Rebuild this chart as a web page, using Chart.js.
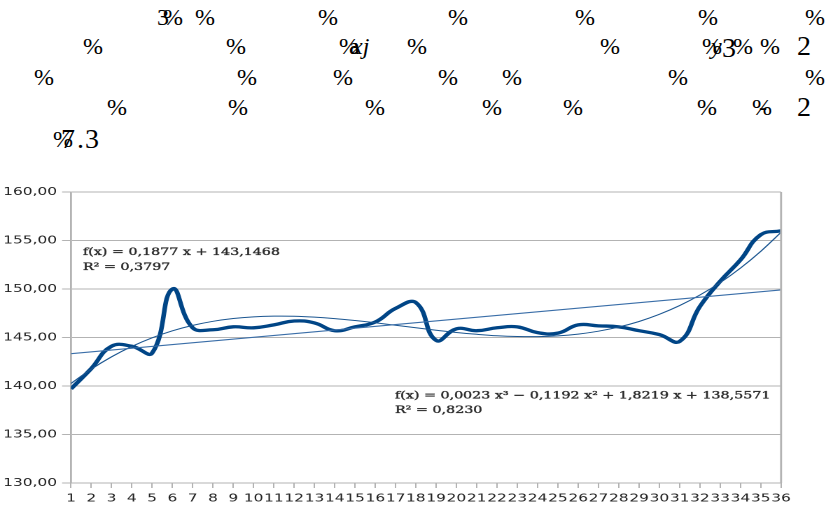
<!DOCTYPE html>
<html>
<head>
<meta charset="utf-8">
<script src="https://cdn.jsdelivr.net/npm/chart.js@4/dist/chart.umd.min.js"></script>
<style>
  body { margin: 0; background: #fff; width: 829px; height: 509px; overflow: hidden; position: relative; }
  .g { position: absolute; font-family: "Liberation Serif", serif; font-size: 24px; line-height: 1; color: #000; white-space: pre; }
  .big { font-size: 28px; }
  .it { font-style: italic; }
  #wrap { position: absolute; left: 0; top: 180px; width: 592px; height: 329px; transform: scaleX(1.4); transform-origin: 0 0; }
</style>
</head>
<body>
<!-- broken text line above the chart -->
<div id="junk"></div>
<div id="wrap"><canvas id="myChart"></canvas></div>
<script>
// dữ liệu
var days = [1, 2, 3, 4, 5, 6, 7, 8, 9, 10, 11, 12, 13, 14, 15, 16, 17, 18,
  19, 20, 21, 22, 23, 24, 25, 26, 27, 28, 29, 30, 31, 32, 33, 34, 35, 36];
var values = [139.7, 141.8, 144.1, 144.1, 143.4, 150.0, 146.0, 145.8, 146.1, 146.0, 146.3, 146.7,
  146.5, 145.7, 146.1, 146.6, 148.0, 148.6, 144.7, 145.9, 145.7, 146.0, 146.1, 145.5,
  145.45, 146.3, 146.2, 146.1, 145.7, 145.3, 144.6, 148.2, 150.8, 153.0, 155.6, 156.0];
var linearX = [1, 36];
var linearTrend = [143.33, 149.90];
var cubicTrend = [140.26, 141.74, 143.01, 144.08, 144.97, 145.69, 146.25, 146.67, 146.96, 147.13, 147.20, 147.19,
  147.10, 146.95, 146.75, 146.52, 146.26, 146.00, 145.75, 145.52, 145.33, 145.18, 145.10, 145.09,
  145.17, 145.35, 145.65, 146.08, 146.65, 147.39, 148.29, 149.38, 150.66, 152.16, 153.89, 155.85];
var eqLinear = ['f(x) = 0,1877 x + 143,1468', 'R² = 0,3797'];
var eqCubic = ['f(x) = 0,0023 x³ − 0,1192 x² + 1,8219 x + 138,5571', 'R² = 0,8230'];

// dòng chữ lỗi phía trên: [chữ, x, top, class]
var junk = [
  ['3', 157, 5, ''], ['%', 163, 5, ''], ['%', 195, 5, ''], ['%', 318, 5, ''], ['%', 448, 5, ''],
  ['%', 575, 5, ''], ['%', 698, 5, ''], ['%', 805, 5, ''],
  ['%', 83, 34, ''], ['%', 226, 34, ''], ['%', 339, 34, ''], ['a', 349, 34, ''], ['xj', 352, 34, 'it'],
  ['%', 407, 34, ''], ['%', 600, 34, ''], ['%', 702, 34, ''], ['y', 711, 34, 'it'], ['3', 722, 34, 'big'],
  ['%', 733, 34, ''], ['%', 760, 34, ''], ['2', 797, 32, 'big'],
  ['%', 34, 65, ''], ['%', 237, 65, ''], ['%', 333, 65, ''], ['%', 438, 65, ''], ['%', 502, 65, ''],
  ['%', 668, 65, ''], ['%', 805, 65, ''],
  ['%', 107, 95, ''], ['%', 228, 95, ''], ['%', 365, 95, ''], ['%', 482, 95, ''], ['%', 563, 95, ''],
  ['%', 697, 95, ''], ['%', 752, 95, ''], ['-', 759, 95, ''], ['2', 797, 93, 'big'],
  ['%', 53, 127, ''], ['7', 61, 125, 'big'], ['.', 77, 125, 'big'], ['3', 85, 125, 'big']
];
var junkBox = document.getElementById('junk');
junk.forEach(function (j) {
  var s = document.createElement('span');
  s.className = 'g ' + j[3];
  s.textContent = j[0];
  s.style.left = j[1] + 'px';
  s.style.top = j[2] + 'px';
  junkBox.appendChild(s);
});

// khung bên phải + phương trình xu hướng
var extras = {
  id: 'extras',
  afterDraw: function (chart) {
    var ctx = chart.ctx, a = chart.chartArea;
    var xs = chart.scales.x, ys = chart.scales.y;
    ctx.save();
    ctx.strokeStyle = '#b3b3b3';
    ctx.lineWidth = 1.4;
    ctx.beginPath();
    ctx.moveTo(a.right, a.top);
    ctx.lineTo(a.right, a.bottom);
    ctx.stroke();
    ctx.fillStyle = '#2b2b2b';
    ctx.strokeStyle = '#2b2b2b';
    ctx.lineWidth = 0.35;
    ctx.font = '10.2px "DejaVu Serif"';
    ctx.textBaseline = 'middle';
    ctx.textAlign = 'left';
    var x1 = xs.getPixelForValue(1.59), y1 = ys.getPixelForValue(153.79);
    var x2 = xs.getPixelForValue(16.97), y2 = ys.getPixelForValue(139.0);
    [[eqLinear[0], x1, y1], [eqLinear[1], x1, y1 + 15],
     [eqCubic[0], x2, y2], [eqCubic[1], x2, y2 + 14.7]].forEach(function (t) {
      ctx.fillText(t[0], t[1], t[2]);
      ctx.strokeText(t[0], t[1], t[2]);
    });
    ctx.restore();
  }
};

var ctx = document.getElementById('myChart').getContext('2d');
var myChart = new Chart(ctx, {
  type: 'line',
  data: {
    datasets: [{
      label: 'Giá trị',
      data: days.map(function (d, i) { return { x: d, y: values[i] }; }),
      borderColor: '#004586',
      borderWidth: 3.3,
      tension: 0.45,
      pointRadius: 0,
      fill: false,
      order: 2
    }, {
      label: 'Xu hướng tuyến tính',
      data: linearX.map(function (d, i) { return { x: d, y: linearTrend[i] }; }),
      borderColor: '#3a6ea8',
      borderWidth: 1.1,
      pointRadius: 0,
      fill: false,
      order: 1
    }, {
      label: 'Xu hướng bậc 3',
      data: days.map(function (d, i) { return { x: d, y: cubicTrend[i] }; }),
      borderColor: '#1a5590',
      borderWidth: 1,
      tension: 0.4,
      pointRadius: 0,
      fill: false,
      order: 1
    }]
  },
  options: {
    responsive: true,
    maintainAspectRatio: false,
    animation: false,
    devicePixelRatio: 2,
    layout: { padding: { top: 12, right: 34.1, left: 0, bottom: 0 } },
    plugins: { legend: { display: false }, tooltip: { enabled: false } },
    scales: {
      x: {
        type: 'linear',
        min: 1,
        max: 36,
        afterFit: function (s) { s.height = 26; },
        grid: { drawOnChartArea: false, color: '#b3b3b3', tickLength: 5 },
        border: { color: '#b3b3b3', width: 1 },
        ticks: {
          stepSize: 1,
          autoSkip: false,
          maxRotation: 0,
          minRotation: 0,
          padding: 4,
          color: '#222',
          font: { family: 'DejaVu Sans', size: 11 }
        }
      },
      y: {
        min: 130,
        max: 160,
        afterFit: function (s) { s.width = 50.7; },
        grid: { color: '#b3b3b3', tickLength: 6.4 },
        border: { color: '#b3b3b3', width: 1.4 },
        ticks: {
          stepSize: 5,
          padding: 3.6,
          color: '#222',
          font: { family: 'DejaVu Sans', size: 11 },
          callback: function (v) { return v.toFixed(2).replace('.', ','); }
        }
      }
    }
  },
  plugins: [extras]
});
</script>
</body>
</html>
